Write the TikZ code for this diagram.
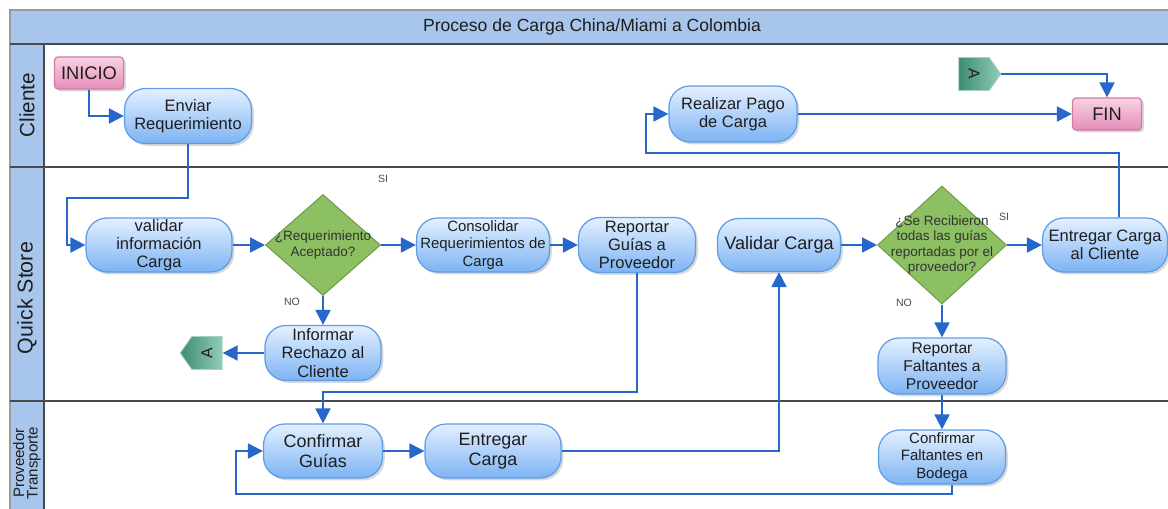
\documentclass[tikz,border=0pt]{standalone}
\usepackage{fontspec}
\setmainfont{Liberation Sans}
\usepackage{xcolor}
\usepackage{tikz}
\usetikzlibrary{calc,shapes,arrows,arrows.meta,positioning,shadows}

\definecolor{lanebl}{HTML}{A8C5EB}
\definecolor{framegr}{HTML}{4A4A4A}
\definecolor{pilltop}{HTML}{E4F0FF}
\definecolor{pillbot}{HTML}{7DB3F3}
\definecolor{pillbd}{HTML}{5E9DE6}
\definecolor{termtop}{HTML}{F8D3E4}
\definecolor{termbot}{HTML}{E58DB8}
\definecolor{termbd}{HTML}{D47AA6}
\definecolor{decfill}{HTML}{8CC063}
\definecolor{decbd}{HTML}{6E9F48}
\definecolor{connl}{HTML}{3D8C72}
\definecolor{connr}{HTML}{92CCB8}
\definecolor{connbd}{HTML}{A3D3C3}
\definecolor{flowbl}{HTML}{2767CC}
\definecolor{txtdk}{HTML}{1E1E1E}

\tikzset{
  proc/.style={rectangle, rounded corners=0.42cm, draw=pillbd, line width=0.7pt,
    top color=pilltop, bottom color=pillbot, text=txtdk, align=center,
    inner xsep=1pt, inner ysep=0pt,
    drop shadow={shadow xshift=1.3pt, shadow yshift=-1.3pt, opacity=0.3},
    font=\fontsize{9.4}{10.4}\selectfont},
  term/.style={rectangle, rounded corners=2pt, draw=termbd, line width=0.7pt,
    top color=termtop, bottom color=termbot, text=txtdk,
    minimum width=1.38cm, minimum height=0.64cm, inner sep=0pt,
    drop shadow={shadow xshift=1.3pt, shadow yshift=-1.3pt, opacity=0.3},
    font=\fontsize{10.4}{12}\selectfont},
  decis/.style={diamond, draw=decbd, line width=0.6pt, fill=decfill, inner sep=0pt},
  dtxt/.style={align=center, text=black!80, font=\fontsize{7.7}{8.6}\selectfont},
  conn/.style={signal, signal pointer angle=110, draw=connbd, line width=0.5pt,
    left color=connl, right color=connr, text=txtdk,
    minimum width=0.84cm, minimum height=0.66cm, inner sep=0pt,
    font=\fontsize{9}{10}\selectfont},
  flow/.style={draw=flowbl, line width=1.1pt, -{Triangle[length=8.5pt,width=8.5pt]}},
  frame/.style={draw=framegr, line width=1.1pt},
  lanetxt/.style={rotate=90, align=center, text=txtdk},
  yesno/.style={text=black!70, font=\fontsize{6}{7}\selectfont},
}

\begin{document}
\begin{tikzpicture}[x=0.02cm, y=-0.02cm]
    \useasboundingbox (0,0) rectangle (1168,508);
    \clip (0,0) rectangle (1168,508);
    \fill[white] (0,0) rectangle (1168,508);
    % pool and lanes
    \fill[lanebl] (10,10) rectangle (1175,44);
    \fill[lanebl] (10,44) rectangle (44,512);
    \draw[frame, draw=gray!80] (1175,10) -- (10,10) -- (10,512);
    \draw[frame] (10,44) -- (1175,44);
    \draw[frame] (10,167) -- (1175,167);
    \draw[frame] (10,401) -- (1175,401);
    \draw[frame] (44,44) -- (44,512);
    \node[text=txtdk, font=\fontsize{10}{12}\selectfont] (title) at (592,27) {Proceso de Carga China/Miami a Colombia};
    \node[lanetxt, font=\fontsize{11.8}{14}\selectfont] (lcli) at (27,105) {Cliente};
    \node[lanetxt, font=\fontsize{12.2}{14}\selectfont] (lqs) at (27,298) {Quick Store};
    \node[lanetxt, font=\fontsize{8.6}{7.6}\selectfont] (lprov) at (27,463) {Proveedor\\Transporte};

    % Cliente
    \node[term] (ini) at (89,73) {INICIO};
    \node[proc, minimum width=2.54cm, minimum height=1.1cm] (env) at (188,116) {Enviar\\Requerimiento};
    \node[proc, minimum width=2.56cm, minimum height=1.12cm] (rp) at (733,114) {Realizar Pago\\de Carga};
    \node[conn, signal to=east] (a1) at (974,74) {\rotatebox{-90}{A}};
    \node[term] (fin) at (1107,114) {FIN};

    % Quick Store
    \node[proc, minimum width=2.92cm, minimum height=1.08cm] (val) at (159,245) {validar\\información\\Carga};
    \node[decis, minimum width=2.3cm, minimum height=2.02cm] (d1) at (323,245) {};
    \node[dtxt] (d1t) at (d1) {¿Requerimiento\\Aceptado?};
    \node[proc, minimum width=2.66cm, minimum height=1.08cm, font=\fontsize{8.5}{10}\selectfont] (con) at (483,245) {Consolidar\\Requerimientos de\\Carga};
    \node[proc, minimum width=2.34cm, minimum height=1.1cm] (rg) at (637,245) {Reportar\\Guías a\\Proveedor};
    \node[proc, minimum width=2.32cm, minimum height=1.1cm] (inf) at (323,353) {Informar\\Rechazo al\\Cliente};
    \node[conn, signal to=west] (a2) at (207,353) {\rotatebox{90}{A}};
    \node[proc, minimum width=2.46cm, minimum height=1.06cm, font=\fontsize{10.3}{12}\selectfont] (vc) at (779,245) {Validar Carga};
    \node[decis, minimum width=2.58cm, minimum height=2.36cm] (d2) at (942,245) {};
    \node[dtxt] (d2t) at (d2) {¿Se Recibieron\\todas las guías\\reportadas por el\\proveedor?};
    \node[proc, minimum width=2.5cm, minimum height=1.08cm] (ecc) at (1105,245) {Entregar Carga\\al Cliente};
    \node[proc, minimum width=2.56cm, minimum height=1.12cm, font=\fontsize{8.9}{10.2}\selectfont] (rf) at (942,366) {Reportar\\Faltantes a\\Proveedor};
    \node[yesno] (si1) at (383,179) {SI};
    \node[yesno] (no1) at (292,302) {NO};
    \node[yesno] (si2) at (1004,217) {SI};
    \node[yesno] (no2) at (904,303) {NO};

    % Proveedor Transporte
    \node[proc, minimum width=2.38cm, minimum height=1.08cm, font=\fontsize{10.2}{11.4}\selectfont] (cg) at (323,451) {Confirmar\\Guías};
    \node[proc, minimum width=2.72cm, minimum height=1.08cm, font=\fontsize{10.2}{11.4}\selectfont] (ec) at (493,451) {Entregar\\Carga};
    \node[proc, minimum width=2.54cm, minimum height=1.08cm, font=\fontsize{8.5}{9.8}\selectfont] (cf) at (942,457) {Confirmar\\Faltantes en\\Bodega};

    % flows
    \draw[flow] (ini.south) |- (env.west);
    \draw[flow] (env.south) |- (67,198) |- (val.west);
    \draw[flow] (val.east) -- (d1.west);
    \draw[flow] (d1.east) -- (con.west);
    \draw[flow] (con.east) -- (rg.west);
    \draw[flow] (d1.south) -- (inf.north);
    \draw[flow] (inf.west) -- (a2.east);
    \draw[flow] (rg.south) -- (rg.south |- 0,392) -| (cg.north);
    \draw[flow] (cg.east) -- (ec.west);
    \draw[flow] (ec.east) -| (vc.south);
    \draw[flow] (vc.east) -- (d2.west);
    \draw[flow] (d2.east) -- (ecc.west);
    \draw[flow] (d2.south) -- (rf.north);
    \draw[flow] (rf.south) -- (cf.north);
    \draw[flow] ([xshift=0.28cm]ecc.north) |- (646,153) |- (rp.west);
    \draw[flow] (rp.east) -- (fin.west);
    \draw[flow] (a1.east) -| (fin.north);
    \draw[flow] ([xshift=0.2cm]cf.south) |- (236,494) |- (cg.west);
\end{tikzpicture}
\end{document}
